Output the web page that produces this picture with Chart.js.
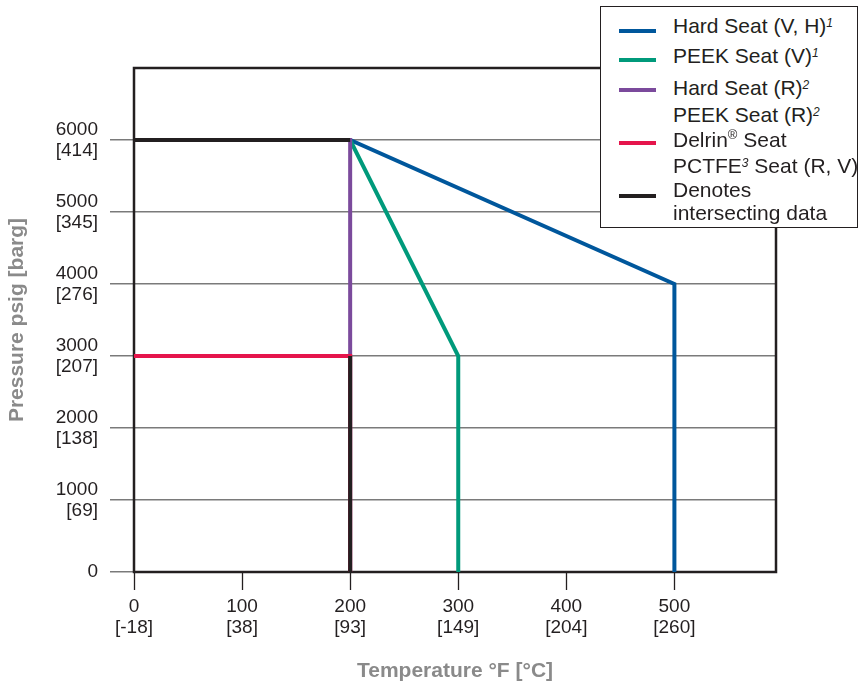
<!DOCTYPE html>
<html>
<head>
<meta charset="utf-8">
<script src="https://cdn.jsdelivr.net/npm/chart.js@4.4.0/dist/chart.umd.min.js"></script>
<style>
  body { margin: 0; background: #fff; }
  .wrap { position: relative; width: 862px; height: 685px; }
  .key { position: absolute; left: 600px; top: 6px; width: 256px; height: 220px; border: 1.5px solid #231f20; background: #fff;
         font: 21px "Liberation Sans", Arial, sans-serif; color: #231f20; }
  .item { position: absolute; left: 72px; line-height: 23px; white-space: nowrap; }
  .sw { position: absolute; left: 18px; width: 37px; height: 4px; }
  .s { font-size: 12px; font-style: italic; position: relative; top: -6px; }
  .r { font-size: 13px; position: relative; top: -8px; }
</style>
</head>
<body>
<div class="wrap">
  <canvas id="chart" width="862" height="685"></canvas>
  <div class="key">
    <div class="sw" style="top:22px;background:#00579c"></div>
    <div class="item" style="top:7px">Hard Seat (V, H)<span class="s">1</span></div>
    <div class="sw" style="top:51px;background:#009a7b"></div>
    <div class="item" style="top:37px">PEEK Seat (V)<span class="s">1</span></div>
    <div class="sw" style="top:81px;background:#7b4a9c"></div>
    <div class="item" style="top:69px">Hard Seat (R)<span class="s">2</span><br>PEEK Seat (R)<span class="s">2</span></div>
    <div class="sw" style="top:134px;background:#e5154c"></div>
    <div class="item" style="top:121px">Delrin<span class="r">®</span> Seat<br>PCTFE<span class="s">3</span> Seat (R, V)</div>
    <div class="sw" style="top:187px;background:#231f20"></div>
    <div class="item" style="top:171px">Denotes<br>intersecting data</div>
  </div>
</div>
<script>
// axis ticks
const tempF = [0, 100, 200, 300, 400, 500];
const tempC = ['[-18]', '[38]', '[93]', '[149]', '[204]', '[260]'];
const psig = [0, 1000, 2000, 3000, 4000, 5000, 6000];
const barg = ['', '[69]', '[138]', '[207]', '[276]', '[345]', '[414]'];

// series (temperature F, pressure psig)
const hardVH_F = [0, 200, 500, 500];
const hardVH_P = [6000, 6000, 4000, 0];
const peekV_F = [0, 200, 300, 300];
const peekV_P = [6000, 6000, 3000, 0];
const hardR_F = [0, 200, 200];
const hardR_P = [6000, 6000, 0];
const delrin_F = [0, 200, 200];
const delrin_P = [3000, 3000, 0];
const sharedTop_F = [0, 200];
const sharedTop_P = [6000, 6000];
const sharedDrop_F = [200, 200];
const sharedDrop_P = [3000, 0];

const ink = '#231f20';
const pts = (xs, ys) => xs.map((x, i) => ({ x: x, y: ys[i] }));
const line = (label, xs, ys, color) => ({
    label: label,
    data: pts(xs, ys),
    borderColor: color,
    backgroundColor: color,
    borderWidth: 4,
    pointRadius: 0,
    showLine: true,
    fill: false,
    tension: 0,
    borderJoinStyle: 'miter'
})

// plot frame
const frame = {
    id: 'frame',
    beforeDatasetsDraw(chart) {
        const { ctx, chartArea: a } = chart
        ctx.save()
        ctx.strokeStyle = ink
        ctx.lineWidth = 2.5
        ctx.strokeRect(a.left, a.top, a.right - a.left, a.bottom - a.top)
        ctx.restore()
    }
}

const font = "'Liberation Sans', Arial, sans-serif"

new Chart(document.getElementById('chart'), {
    type: 'scatter',
    data: {
        // first dataset is drawn on top
        datasets: [
            line('Denotes intersecting data', sharedTop_F, sharedTop_P, ink),
            line('Denotes intersecting data', sharedDrop_F, sharedDrop_P, ink),
            line('Delrin Seat / PCTFE Seat (R, V)', delrin_F, delrin_P, '#e5154c'),
            line('Hard Seat (R) / PEEK Seat (R)', hardR_F, hardR_P, '#7b4a9c'),
            line('PEEK Seat (V)', peekV_F, peekV_P, '#009a7b'),
            line('Hard Seat (V, H)', hardVH_F, hardVH_P, '#00579c'),
        ]
    },
    options: {
        responsive: false,
        animation: false,
        layout: {
            padding: { left: 4, top: 68, right: 86, bottom: 1 }
        },
        scales: {
            x: {
                type: 'linear',
                min: 0,
                max: 594,
                afterBuildTicks: s => { s.ticks = tempF.map(v => ({ value: v })) },
                afterFit: s => { s.height = 112 },
                ticks: {
                    autoSkip: false,
                    maxRotation: 0,
                    padding: 6,
                    color: ink,
                    font: { family: font, size: 19, lineHeight: 1.1 },
                    callback: (v, i) => [String(tempF[i]), tempC[i]]
                },
                grid: {
                    drawOnChartArea: false,
                    tickLength: 18,
                    tickColor: ink,
                    tickWidth: 1.3
                },
                border: { display: false },
                title: {
                    display: true,
                    text: 'Temperature °F [°C]',
                    color: '#8a8a8a',
                    font: { family: font, size: 21, weight: 'bold' },
                    padding: { top: 0, bottom: 0 }
                }
            },
            y: {
                min: 0,
                max: 7000,
                afterBuildTicks: s => { s.ticks = psig.map(v => ({ value: v })) },
                afterFit: s => { s.width = 130 },
                ticks: {
                    padding: 12,
                    color: ink,
                    font: { family: font, size: 19, lineHeight: 1.1 },
                    callback: (v, i) => i === 0 ? '0' : [String(psig[i]), barg[i]]
                },
                grid: {
                    color: '#7a7a7a',
                    lineWidth: 1.5,
                    tickLength: 24
                },
                border: { display: false },
                title: {
                    display: true,
                    text: 'Pressure psig [barg]',
                    color: '#8a8a8a',
                    font: { family: font, size: 21, weight: 'bold' },
                    padding: { top: 1, bottom: 0 }
                }
            }
        },
        plugins: {
            legend: { display: false },
            tooltip: { enabled: false }
        }
    },
    plugins: [frame]
})
</script>
</body>
</html>
